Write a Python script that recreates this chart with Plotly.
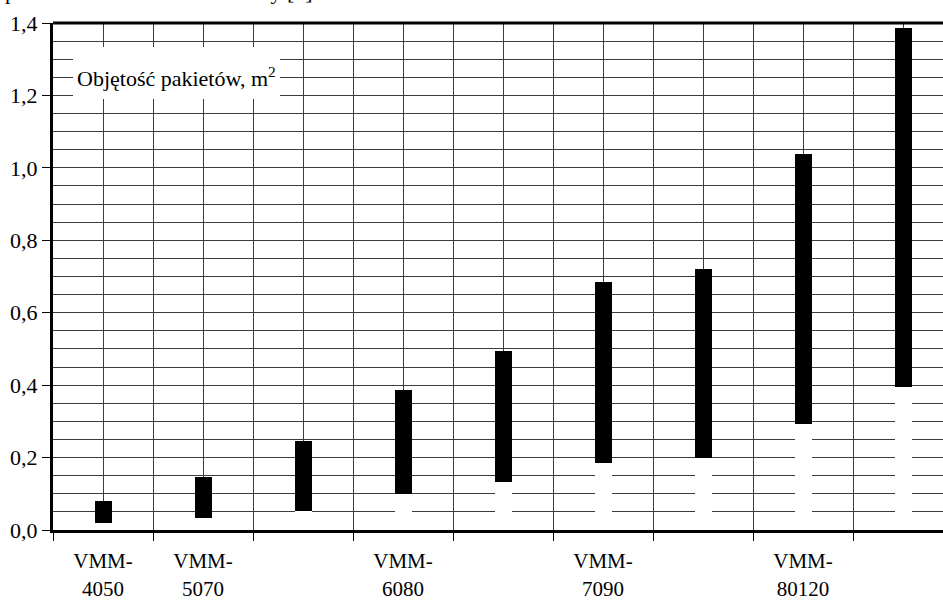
import plotly.graph_objects as go

# Package volume ranges for the VMM dryer series
labels = ["VMM-<br>4050", "VMM-<br>5070", "", "VMM-<br>6080", "",
          "VMM-<br>7090", "", "VMM-<br>80120", ""]
vol_min = [0.020, 0.034, 0.052, 0.100, 0.133, 0.186, 0.200, 0.294, 0.394]
vol_max = [0.080, 0.146, 0.246, 0.387, 0.494, 0.685, 0.721, 1.039, 1.386]
y_ticks = [0.0, 0.2, 0.4, 0.6, 0.8, 1.0, 1.2, 1.4]

pos = list(range(len(labels)))
bounds = [p - 0.5 for p in pos] + [pos[-1] + 0.5]

FONT = "Liberation Serif, Times New Roman, DejaVu Serif, serif"
GRID = "#3c3c3c"

fig = go.Figure()
# lower part of each range (hidden, white)
fig.add_trace(go.Bar(x=pos, y=vol_min, base=0, width=0.17,
                     marker=dict(color="white", line=dict(width=0)),
                     showlegend=False, hoverinfo="skip"))
# the volume range itself
fig.add_trace(go.Bar(x=pos, y=[hi - lo for lo, hi in zip(vol_min, vol_max)],
                     base=vol_min, width=0.17,
                     marker=dict(color="black", line=dict(width=0)),
                     showlegend=False))

fig.update_layout(
    width=943, height=601,
    margin=dict(l=53, r=0, t=23, b=71),
    plot_bgcolor="white", paper_bgcolor="white",
    barmode="overlay", bargap=0,
    separators=", ",
    font=dict(family=FONT, size=22, color="black"),
    xaxis=dict(
        range=[-0.5, 8.4], automargin=False,
        tickvals=pos, ticktext=labels, ticks="",
        showgrid=True, gridcolor=GRID, gridwidth=1,
        showline=True, linecolor="black", linewidth=3,
        zeroline=False, ticklabelstandoff=10,
        tickfont=dict(family=FONT, size=21, color="black"),
        minor=dict(tickvals=bounds, ticks="outside", ticklen=8,
                   tickcolor="black", tickwidth=1,
                   showgrid=True, gridcolor=GRID, gridwidth=1),
    ),
    yaxis=dict(
        range=[0, 1.4], tickvals=y_ticks, tickformat=".1f", automargin=False,
        ticks="outside", ticklen=8, tickcolor="black", tickwidth=1,
        showgrid=True, gridcolor=GRID, gridwidth=1,
        showline=True, linecolor="black", linewidth=3,
        zeroline=False,
        tickfont=dict(family=FONT, size=22, color="black"),
        minor=dict(dtick=0.05, showgrid=True, gridcolor=GRID, gridwidth=1),
    ),
    shapes=[
        # top frame line
        dict(type="line", xref="paper", yref="paper", x0=0, x1=1, y0=1, y1=1,
             line=dict(color="black", width=3), layer="above"),
        # background of the axis title box
        dict(type="rect", xref="x", yref="y", x0=-0.3, x1=1.77, y0=1.19, y1=1.334,
             fillcolor="white", line=dict(width=0), layer="above"),
    ],
    annotations=[
        dict(text="Objętość pakietów, m<sup>2</sup>", xref="x", yref="y",
             x=0.735, y=1.25, showarrow=False,
             font=dict(family=FONT, size=22, color="black")),
        dict(text="pakietów suszarek VMM firmy [3]", xref="paper", yref="paper",
             x=-0.056, y=1.034, xanchor="left", yanchor="bottom", showarrow=False,
             font=dict(family=FONT, size=22, color="black")),
    ],
)

fig.write_html("out.html")
